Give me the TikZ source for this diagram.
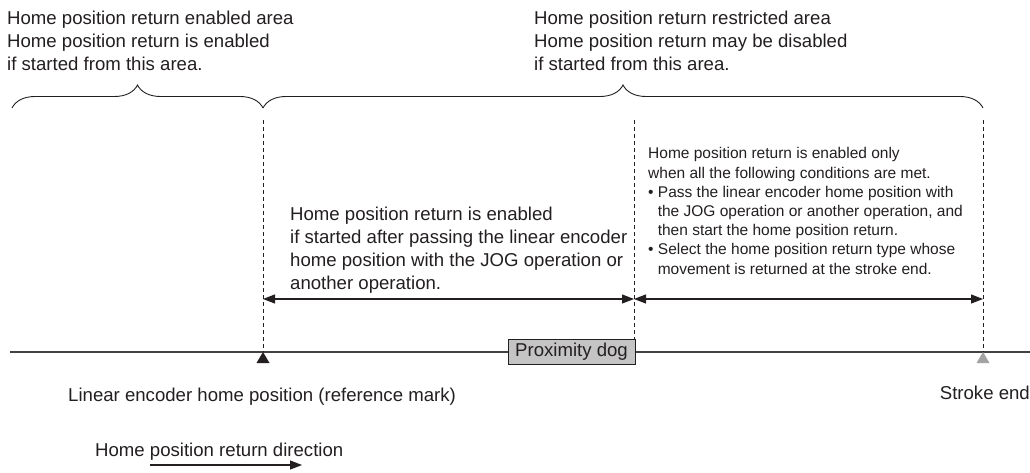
\documentclass[tikz,border=0pt]{standalone}
\usepackage{fontspec}
\setmainfont{Liberation Sans}
\usetikzlibrary{arrows.meta, positioning, decorations.pathreplacing}
\definecolor{hpink}{HTML}{231F20}
\definecolor{hpdog}{HTML}{C4C4C4}
\definecolor{hpgrey}{HTML}{A3A3A3}

\begin{document}
\begin{tikzpicture}[x=1pt, y=-1pt, font=\fontsize{18.6}{23}\selectfont, text=hpink,
    guide/.style={hpink, line width=0.9pt, dash pattern=on 4pt off 3pt},
    dimline/.style={hpink, line width=1.1pt, {Triangle[length=12pt,width=9pt]}-{Triangle[length=12pt,width=9pt]}},
    bracepath/.style={hpink, line width=0.9pt, decorate, decoration={brace, amplitude=23pt}},
    note/.style={anchor=north west, inner sep=0pt, align=left},
    small/.style={font=\fontsize{15.5}{19.2}\selectfont}]
  \useasboundingbox (0,0) rectangle (1030,473);
  % area headings
  \node[note] (enabledarea) at (7,11) {Home position return enabled area\\Home position return is enabled\\if started from this area.};
  \node[note] (restrictedarea) at (534,11) {Home position return restricted area\\Home position return may be disabled\\if started from this area.};
  % braces
  \coordinate (lbrace) at (12,108);
  \coordinate (mbrace) at (263,108);
  \coordinate (rbrace) at (983,108);
  \draw[bracepath] (lbrace) -- (mbrace);
  \draw[bracepath] (mbrace) -- (rbrace);
  % axis and proximity dog
  \coordinate (axisL) at (10,352);
  \coordinate (axisR) at (1030,352);
  \draw[hpink!85, line width=1.1pt] (axisL) -- (axisR);
  \node[draw=hpink, fill=hpdog, line width=0.9pt, minimum width=127pt, minimum height=25pt, inner sep=0pt] (dog) at (571.5,352) {Proximity dog};
  % reference mark / stroke end
  \fill[hpink] (263,352) -- (269.5,363) -- (256.5,363) -- cycle;
  \fill[hpgrey] (983,352) -- (989.5,363) -- (976.5,363) -- cycle;
  % dashed guides
  \coordinate (gA) at (263,120);
  \coordinate (gB) at (634,120);
  \coordinate (gC) at (983,120);
  \draw[guide] (gA) -- (263,352);
  \draw[guide] (gB) -- (dog.north east -| gB);
  \draw[guide] (gC) -- (983,352);
  % ranges
  \coordinate (dA) at (263,299);
  \coordinate (dB) at (634,299);
  \coordinate (dC) at (983,299);
  \draw[dimline] (dA) -- (dB);
  \draw[dimline] (dB) -- (dC);
  \node[note] (afterpass) at (290,207) {Home position return is enabled\\if started after passing the linear encoder\\home position with the JOG operation or\\another operation.};
  \node[note, small] (conditions) at (648,147.5) {Home position return is enabled only\\when all the following conditions are met.\\%
    \textbullet\ Pass the linear encoder home position with\\\hspace*{9.6pt}the JOG operation or another operation, and\\\hspace*{9.6pt}then start the home position return.\\%
    \textbullet\ Select the home position return type whose\\\hspace*{9.6pt}movement is returned at the stroke end.};
  % labels
  \node[anchor=base west, inner sep=0pt] (refmark) at (68,401) {Linear encoder home position (reference mark)};
  \node[anchor=base east, inner sep=0pt] (strokeend) at (1030,399) {Stroke end};
  \node[anchor=base west, inner sep=0pt] (direction) at (95,456) {Home position return direction};
  \coordinate (dirS) at (150,465);
  \coordinate (dirE) at (302,465);
  \draw[hpink, line width=1.1pt, -{Triangle[length=12pt,width=9pt]}] (dirS) -- (dirE);
\end{tikzpicture}
\end{document}
